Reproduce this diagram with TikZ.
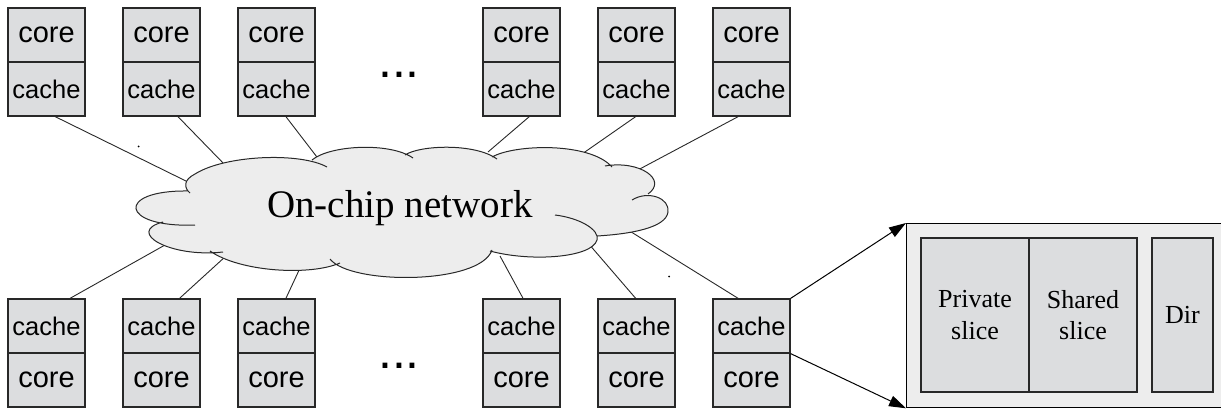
\documentclass[tikz,border=0pt]{standalone}
\usepackage{fontspec}
\setmainfont{Liberation Serif}
\newfontfamily\arialf{Liberation Sans}
\usetikzlibrary{arrows.meta,calc}
\definecolor{boxfill}{RGB}{220,221,223}
\definecolor{cloudfill}{RGB}{237,237,237}
\definecolor{edge}{RGB}{40,40,40}
\tikzset{
  unit/.style={draw=edge, line width=1.2pt, fill=boxfill, minimum width=77pt, minimum height=54pt, inner sep=0pt},
  corelbl/.style={unit, font=\arialf\fontsize{29}{34}\selectfont},
  cachelbl/.style={unit, font=\arialf\fontsize{25.5}{30}\selectfont},
  slicebox/.style={draw=edge, line width=1.2pt, fill=boxfill, minimum height=154pt, inner sep=0pt, align=center, font=\fontsize{26}{31.7}\selectfont},
  link/.style={draw=edge, line width=0.9pt},
  zoomarrow/.style={draw=black, line width=1pt, -{Triangle[length=17pt,width=11pt]}},
  dotsl/.style={font=\arialf\fontsize{50}{60}\selectfont, inner sep=0pt, anchor=base}
}
\def\segC{(223,252) .. controls (170,258) and (125,232) .. (163,222)}
\def\segB{(195,225) .. controls (120,228) and (115,190) .. (188,191)}
\def\segA{(190,193) .. controls (184,188) and (183,180) .. (195,174) .. controls (225,155) and (300,152) .. (327,167)}
\def\segK{(312,160) .. controls (330,145) and (390,142) .. (413,158)}
\def\segJ{(405,155) .. controls (420,145) and (475,143) .. (497,159)}
\def\segI{(492,157) .. controls (515,144) and (590,142) .. (612,167)}
\def\segH{(605,166) .. controls (640,160) and (668,180) .. (648,194)}
\def\segG{(632,200) .. controls (648,190) and (670,198) .. (668,212) .. controls (666,228) and (630,234) .. (597,236)}
\def\segF{(555,215) .. controls (580,218) and (600,230) .. (597,240) .. controls (592,258) and (530,262) .. (490,251)}
\def\segE{(492,250) .. controls (480,285) and (350,285) .. (330,259)}
\def\segD{(340,263) .. controls (310,276) and (240,272) .. (210,251)}
\begin{document}
\begin{tikzpicture}[x=1pt,y=-1pt]
\useasboundingbox (0,0) rectangle (1221,409);
\clip (0,0) rectangle (1221,409);

% boxes
\foreach \i/\x in {1/8,2/123,3/238,4/483,5/598,6/713}{
  \node[corelbl] (tcore\i) at (\x+38.5,35) {core};
  \node[cachelbl] (tcache\i) at (\x+38.5,89) {cache};
  \node[cachelbl] (bcache\i) at (\x+38.5,326) {cache};
  \node[corelbl] (bcore\i) at (\x+38.5,380) {core};
}

% cloud attachment points
\coordinate (c1) at (190,183);
\coordinate (c2) at (226,166);
\coordinate (c3) at (320,161);
\coordinate (c4) at (488,152);
\coordinate (c5) at (582,154);
\coordinate (c6) at (636,171);
\coordinate (d1) at (165,245);
\coordinate (d2) at (226,256);
\coordinate (d3) at (301,266);
\coordinate (d4) at (500,256);
\coordinate (d5) at (588,243);
\coordinate (d6) at (628,230);

\foreach \i/\ft/\fb in {1/0.61/0.8,2/0.71/0.73,3/0.62/0.62,4/0.6/0.52,5/0.49/0.49,6/0.33/0.33}{
  \draw[link] ($(tcache\i.south west)!\ft!(tcache\i.south east)$) -- (c\i);
  \draw[link] ($(bcache\i.north west)!\fb!(bcache\i.north east)$) -- (d\i);
}

% cloud
\fill[cloudfill] \segC -- \segB -- \segA -- \segK -- \segJ -- \segI -- \segH -- \segG -- \segF -- \segE -- \segD -- cycle;
\fill[cloudfill] (400,210) ellipse (240 and 45);
\draw[edge, line width=1pt] \segC \segB \segA \segK \segJ \segI \segH \segG \segF \segE \segD;
\node[font=\fontsize{39}{47}\selectfont, inner sep=0pt, anchor=base] (net) at (400,217) {On-chip network};

% dots
\node[dotsl] (dtop) at (399,77.5) {...};
\node[dotsl] (dbot) at (399,368.5) {...};

% stray specks
\fill[black] (138.5,146.5) circle (1);
\fill[black] (669,276.5) circle (1);

% zoomed cache
\node[draw=black, line width=1.3pt, fill=cloudfill, minimum width=340pt, minimum height=184pt, inner sep=0pt, anchor=north west] (big) at (906,223) {};
\node[slicebox, minimum width=108pt] (priv) at (975,315) {Private\\slice};
\node[slicebox, minimum width=108pt] (shrd) at (1083,315) {Shared\\slice};
\node[slicebox, minimum width=61pt] (dir) at (1182.5,315) {Dir};

\draw[zoomarrow] (bcache6.north east) -- (big.north west);
\draw[zoomarrow] (bcache6.south east) -- (big.south west);
\end{tikzpicture}
\end{document}
